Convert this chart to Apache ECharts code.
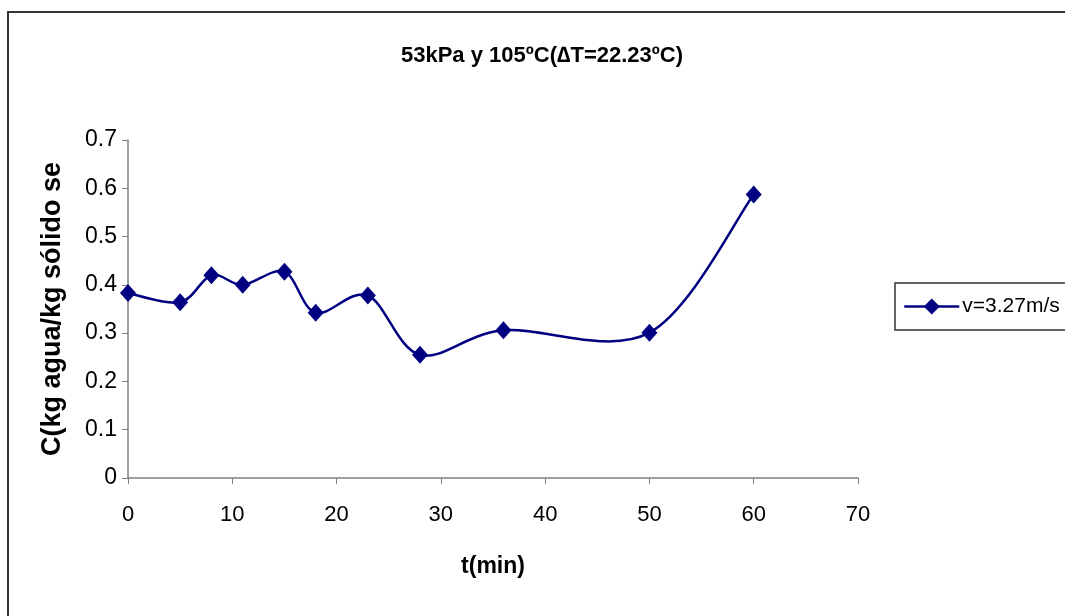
<!DOCTYPE html>
<html>
<head>
<meta charset="utf-8">
<script src="https://cdn.jsdelivr.net/npm/echarts@6/dist/echarts.min.js"></script>
<style>html,body{margin:0;padding:0;background:#fff;}#c{width:1065px;height:616px;}</style>
</head>
<body>
<div id="c"></div>
<script>
const titleText = '53kPa y 105ºC(∆T=22.23ºC)';
const seriesName = 'v=3.27m/s';
const xName = 't(min)';
const yName = 'C(kg agua/kg sólido se';
const tMin = [0, 5, 8, 11, 15, 18, 23, 28, 36, 50, 60];
const cVals = [0.383, 0.364, 0.420, 0.400, 0.427, 0.342, 0.378, 0.255, 0.306, 0.301, 0.587];

const lineColor = '#000080';
const points = tMin.map((t, i) => [t, cVals[i]]);

// Excel-style smoothed curve (Catmull-Rom -> cubic Bezier), positions from the axis scales
function renderCurve(params, api) {
  if (params.dataIndex !== 0) return null;
  const p = points.map(d => api.coord(d));
  const n = p.length;
  let d = 'M' + p[0][0] + ' ' + p[0][1];
  for (let i = 0; i < n - 1; i++) {
    const p0 = p[Math.max(i - 1, 0)], p1 = p[i], p2 = p[i + 1], p3 = p[Math.min(i + 2, n - 1)];
    const c1 = [p1[0] + (p2[0] - p0[0]) / 6, p1[1] + (p2[1] - p0[1]) / 6];
    const c2 = [p2[0] - (p3[0] - p1[0]) / 6, p2[1] - (p3[1] - p1[1]) / 6];
    d += ' C' + c1[0] + ' ' + c1[1] + ' ' + c2[0] + ' ' + c2[1] + ' ' + p2[0] + ' ' + p2[1];
  }
  return {
    type: 'path',
    shape: {pathData: d},
    style: {fill: 'none', stroke: lineColor, lineWidth: 2.5}
  };
}

const chart = echarts.init(document.getElementById('c'), null, {renderer: 'canvas'});
const font = '"Liberation Sans", Arial, sans-serif';
chart.setOption({
  animation: false,
  backgroundColor: '#fff',
  graphic: [{
    type: 'rect', shape: {x: 8, y: 12, width: 1080, height: 630},
    style: {fill: 'none', stroke: '#333', lineWidth: 2}, silent: true
  }],
  title: {
    text: titleText, left: 537, top: 40, textAlign: 'center',
    textStyle: {fontFamily: font, fontSize: 22, fontWeight: 'bold', color: '#000'}
  },
  legend: {
    left: 895, top: 283, orient: 'vertical',
    borderColor: '#333', borderWidth: 1.5, padding: [13, 20, 13, 8],
    itemWidth: 55, itemHeight: 20, itemGap: 0,
    lineStyle: {color: lineColor, width: 2.5, opacity: 1},
    textStyle: {fontFamily: font, fontSize: 21, color: '#000', padding: [0, 0, 0, -2]},
    data: [{name: seriesName}]
  },
  grid: {left: 128, right: 1065 - 858, top: 140, bottom: 616 - 478, containLabel: false},
  xAxis: {
    type: 'value', min: 0, max: 70, interval: 10,
    name: xName, nameLocation: 'middle', nameGap: 77,
    nameTextStyle: {fontFamily: font, fontSize: 23, fontWeight: 'bold', color: '#000'},
    axisLine: {lineStyle: {color: '#808080', width: 1.5}},
    axisTick: {show: true, length: 6, lineStyle: {color: '#808080'}},
    axisLabel: {fontFamily: font, fontSize: 22, color: '#000', margin: 26},
    splitLine: {show: false}
  },
  yAxis: {
    type: 'value', min: 0, max: 0.7, interval: 0.1,
    name: yName, nameLocation: 'middle', nameGap: 62, nameRotate: 90,
    nameTextStyle: {fontFamily: font, fontSize: 27, fontWeight: 'bold', color: '#000'},
    axisLine: {show: true, lineStyle: {color: '#808080', width: 1.5}},
    axisTick: {show: true, length: 6, lineStyle: {color: '#808080'}},
    axisLabel: {fontFamily: font, fontSize: 23, color: '#000', margin: 11},
    splitLine: {show: false}
  },
  series: [{
    type: 'custom', coordinateSystem: 'cartesian2d',
    data: points, encode: {x: 0, y: 1},
    renderItem: renderCurve, z: 1, silent: true
  }, {
    name: seriesName, type: 'line',
    data: points,
    symbol: 'diamond', symbolSize: [16, 18], showAllSymbol: true,
    lineStyle: {color: lineColor, width: 2.5, opacity: 0},
    itemStyle: {color: lineColor},
    z: 3
  }]
});
</script>
</body>
</html>
